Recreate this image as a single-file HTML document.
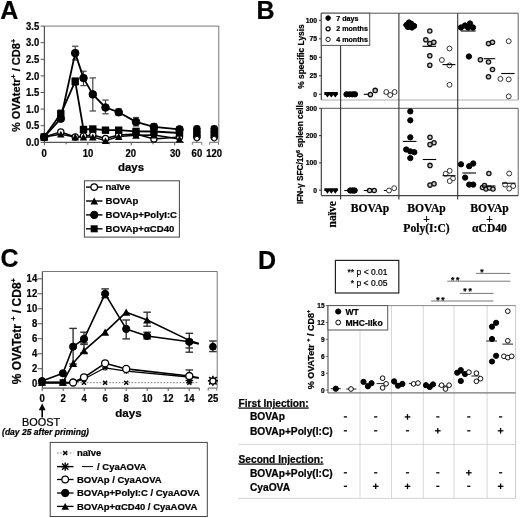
<!DOCTYPE html>
<html><head><meta charset="utf-8"><style>
html,body{margin:0;padding:0;background:#fff;}
body{width:520px;height:518px;overflow:hidden;}
svg{display:block;filter:blur(0.35px);}
text{stroke:#000;stroke-width:0.22px;}
</style></head><body>
<svg width="520" height="518" viewBox="0 0 520 518">
<rect width="520" height="518" fill="#fff"/>
<text x="0.3" y="18.8" font-size="25" font-weight="bold" font-family='"Liberation Sans", sans-serif' text-anchor="start" fill="#000" >A</text>
<text x="256.6" y="18.8" font-size="25" font-weight="bold" font-family='"Liberation Sans", sans-serif' text-anchor="start" fill="#000" >B</text>
<text x="0.6" y="266.6" font-size="25" font-weight="bold" font-family='"Liberation Sans", sans-serif' text-anchor="start" fill="#000" >C</text>
<text x="258" y="268.8" font-size="25" font-weight="bold" font-family='"Liberation Sans", sans-serif' text-anchor="start" fill="#000" >D</text>
<line x1="44.4" y1="26.1" x2="218.8" y2="26.1" stroke="#777" stroke-width="1" />
<line x1="218.8" y1="26.1" x2="218.8" y2="142.3" stroke="#777" stroke-width="1" />
<line x1="44.4" y1="26.1" x2="44.4" y2="142.3" stroke="#555" stroke-width="1.2" />
<line x1="44.4" y1="142.3" x2="184" y2="142.3" stroke="#555" stroke-width="1.2" />
<line x1="192.3" y1="142.3" x2="201.7" y2="142.3" stroke="#777" stroke-width="1" />
<line x1="192.3" y1="142.3" x2="192.3" y2="144.8" stroke="#777" stroke-width="1" />
<line x1="201.7" y1="142.3" x2="201.7" y2="144.8" stroke="#777" stroke-width="1" />
<line x1="209.6" y1="142.3" x2="218.5" y2="142.3" stroke="#777" stroke-width="1" />
<line x1="209.6" y1="142.3" x2="209.6" y2="144.8" stroke="#777" stroke-width="1" />
<line x1="218.5" y1="142.3" x2="218.5" y2="144.8" stroke="#777" stroke-width="1" />
<line x1="40.6" y1="142.3" x2="44.4" y2="142.3" stroke="#555" stroke-width="1" />
<text transform="translate(39.2,145.9) scale(0.95,1.0)" font-size="10" font-weight="bold" font-family='"Liberation Sans", sans-serif' text-anchor="end">0.0</text>
<line x1="40.6" y1="125.70000000000002" x2="44.4" y2="125.70000000000002" stroke="#555" stroke-width="1" />
<text transform="translate(39.2,129.3) scale(0.95,1.0)" font-size="10" font-weight="bold" font-family='"Liberation Sans", sans-serif' text-anchor="end">0.5</text>
<line x1="40.6" y1="109.10000000000001" x2="44.4" y2="109.10000000000001" stroke="#555" stroke-width="1" />
<text transform="translate(39.2,112.7) scale(0.95,1.0)" font-size="10" font-weight="bold" font-family='"Liberation Sans", sans-serif' text-anchor="end">1.0</text>
<line x1="40.6" y1="92.5" x2="44.4" y2="92.5" stroke="#555" stroke-width="1" />
<text transform="translate(39.2,96.1) scale(0.95,1.0)" font-size="10" font-weight="bold" font-family='"Liberation Sans", sans-serif' text-anchor="end">1.5</text>
<line x1="40.6" y1="75.9" x2="44.4" y2="75.9" stroke="#555" stroke-width="1" />
<text transform="translate(39.2,79.5) scale(0.95,1.0)" font-size="10" font-weight="bold" font-family='"Liberation Sans", sans-serif' text-anchor="end">2.0</text>
<line x1="40.6" y1="59.3" x2="44.4" y2="59.3" stroke="#555" stroke-width="1" />
<text transform="translate(39.2,62.9) scale(0.95,1.0)" font-size="10" font-weight="bold" font-family='"Liberation Sans", sans-serif' text-anchor="end">2.5</text>
<line x1="40.6" y1="42.7" x2="44.4" y2="42.7" stroke="#555" stroke-width="1" />
<text transform="translate(39.2,46.300000000000004) scale(0.95,1.0)" font-size="10" font-weight="bold" font-family='"Liberation Sans", sans-serif' text-anchor="end">3.0</text>
<line x1="40.6" y1="26.099999999999994" x2="44.4" y2="26.099999999999994" stroke="#555" stroke-width="1" />
<text transform="translate(39.2,29.699999999999996) scale(0.95,1.0)" font-size="10" font-weight="bold" font-family='"Liberation Sans", sans-serif' text-anchor="end">3.5</text>
<line x1="44.4" y1="142.3" x2="44.4" y2="145.3" stroke="#555" stroke-width="1" />
<line x1="87.83" y1="142.3" x2="87.83" y2="145.3" stroke="#555" stroke-width="1" />
<line x1="131.26" y1="142.3" x2="131.26" y2="145.3" stroke="#555" stroke-width="1" />
<line x1="174.69" y1="142.3" x2="174.69" y2="145.3" stroke="#555" stroke-width="1" />
<line x1="66.115" y1="142.3" x2="66.115" y2="144.3" stroke="#555" stroke-width="1" />
<line x1="109.54499999999999" y1="142.3" x2="109.54499999999999" y2="144.3" stroke="#555" stroke-width="1" />
<line x1="152.975" y1="142.3" x2="152.975" y2="144.3" stroke="#555" stroke-width="1" />
<text transform="translate(44.2,156.6) scale(0.95,1.0)" font-size="10" font-weight="bold" font-family='"Liberation Sans", sans-serif' text-anchor="middle">0</text>
<text transform="translate(88,156.6) scale(0.95,1.0)" font-size="10" font-weight="bold" font-family='"Liberation Sans", sans-serif' text-anchor="middle">10</text>
<text transform="translate(130.7,156.6) scale(0.95,1.0)" font-size="10" font-weight="bold" font-family='"Liberation Sans", sans-serif' text-anchor="middle">20</text>
<text transform="translate(175.3,156.6) scale(0.95,1.0)" font-size="10" font-weight="bold" font-family='"Liberation Sans", sans-serif' text-anchor="middle">30</text>
<text transform="translate(196.9,156.6) scale(0.95,1.0)" font-size="10" font-weight="bold" font-family='"Liberation Sans", sans-serif' text-anchor="middle">60</text>
<text transform="translate(214.2,156.6) scale(0.95,1.0)" font-size="10" font-weight="bold" font-family='"Liberation Sans", sans-serif' text-anchor="middle">120</text>
<text x="131" y="170.5" font-size="11.4" font-weight="bold" font-family='"Liberation Sans", sans-serif' text-anchor="middle" fill="#000" >days</text>
<text transform="translate(20.2,85.5) rotate(-90)" font-size="11" font-weight="bold" font-family='"Liberation Sans", sans-serif' text-anchor="middle">% OVAtetr<tspan font-size="7" dy="-4.5">+</tspan><tspan dy="4.5"> / CD8</tspan><tspan font-size="7" dy="-4.5">+</tspan></text>
<line x1="75.2" y1="46.2" x2="75.2" y2="60" stroke="#444" stroke-width="1.2" />
<line x1="72.0" y1="46.2" x2="78.4" y2="46.2" stroke="#444" stroke-width="1.2" />
<line x1="72.0" y1="60" x2="78.4" y2="60" stroke="#444" stroke-width="1.2" />
<line x1="83.5" y1="71.2" x2="83.5" y2="85.6" stroke="#444" stroke-width="1.2" />
<line x1="80.3" y1="71.2" x2="86.7" y2="71.2" stroke="#444" stroke-width="1.2" />
<line x1="80.3" y1="85.6" x2="86.7" y2="85.6" stroke="#444" stroke-width="1.2" />
<line x1="92.8" y1="77.9" x2="92.8" y2="111" stroke="#444" stroke-width="1.2" />
<line x1="89.6" y1="77.9" x2="96.0" y2="77.9" stroke="#444" stroke-width="1.2" />
<line x1="89.6" y1="111" x2="96.0" y2="111" stroke="#444" stroke-width="1.2" />
<line x1="105.5" y1="100.1" x2="105.5" y2="113.8" stroke="#444" stroke-width="1.2" />
<line x1="102.3" y1="100.1" x2="108.7" y2="100.1" stroke="#444" stroke-width="1.2" />
<line x1="102.3" y1="113.8" x2="108.7" y2="113.8" stroke="#444" stroke-width="1.2" />
<line x1="118.7" y1="109" x2="118.7" y2="115.5" stroke="#444" stroke-width="1.2" />
<line x1="115.5" y1="109" x2="121.9" y2="109" stroke="#444" stroke-width="1.2" />
<line x1="115.5" y1="115.5" x2="121.9" y2="115.5" stroke="#444" stroke-width="1.2" />
<line x1="136" y1="117.5" x2="136" y2="126" stroke="#444" stroke-width="1.2" />
<line x1="132.8" y1="117.5" x2="139.2" y2="117.5" stroke="#444" stroke-width="1.2" />
<line x1="132.8" y1="126" x2="139.2" y2="126" stroke="#444" stroke-width="1.2" />
<line x1="153.9" y1="124" x2="153.9" y2="129.5" stroke="#444" stroke-width="1.2" />
<line x1="150.70000000000002" y1="124" x2="157.1" y2="124" stroke="#444" stroke-width="1.2" />
<line x1="150.70000000000002" y1="129.5" x2="157.1" y2="129.5" stroke="#444" stroke-width="1.2" />
<line x1="179.5" y1="127" x2="179.5" y2="132" stroke="#444" stroke-width="1.2" />
<line x1="176.3" y1="127" x2="182.7" y2="127" stroke="#444" stroke-width="1.2" />
<line x1="176.3" y1="132" x2="182.7" y2="132" stroke="#444" stroke-width="1.2" />
<line x1="75.2" y1="78" x2="75.2" y2="85" stroke="#444" stroke-width="1.2" />
<line x1="72.0" y1="78" x2="78.4" y2="78" stroke="#444" stroke-width="1.2" />
<line x1="72.0" y1="85" x2="78.4" y2="85" stroke="#444" stroke-width="1.2" />
<line x1="60.8" y1="110" x2="60.8" y2="117" stroke="#444" stroke-width="1.2" />
<line x1="57.599999999999994" y1="110" x2="64.0" y2="110" stroke="#444" stroke-width="1.2" />
<line x1="57.599999999999994" y1="117" x2="64.0" y2="117" stroke="#444" stroke-width="1.2" />
<polyline points="44.2,137.0 60.8,131.9 75.2,137.0 83.5,136.0 92.8,135.0 105.5,138.5 118.7,135.0 136.0,134.0 153.9,139.0 179.5,137.0" fill="none" stroke="#000" stroke-width="1.4" stroke-linejoin="round" />
<polyline points="44.2,137.0 60.8,134.2 75.2,137.0 83.5,137.0 92.8,137.0 105.5,140.6 118.7,136.5 136.0,135.3 153.9,135.0 179.5,139.0" fill="none" stroke="#000" stroke-width="1.4" stroke-linejoin="round" />
<polyline points="44.2,137.0 60.8,113.8 75.2,81.4 83.5,129.5 92.8,129.0 105.5,130.2 118.7,130.2 136.0,131.4 153.9,131.5 179.5,133.0" fill="none" stroke="#000" stroke-width="1.8" stroke-linejoin="round" />
<polyline points="44.2,137.0 60.8,118.7 75.2,53.1 83.5,78.1 92.8,94.4 105.5,107.5 118.7,112.2 136.0,121.9 153.9,126.9 179.5,129.4" fill="none" stroke="#000" stroke-width="1.8" stroke-linejoin="round" />
<circle cx="44.2" cy="137.0" r="3.1" fill="#fff" stroke="#000" stroke-width="1.2"/>
<circle cx="60.8" cy="131.9" r="3.1" fill="#fff" stroke="#000" stroke-width="1.2"/>
<circle cx="75.2" cy="137.0" r="3.1" fill="#fff" stroke="#000" stroke-width="1.2"/>
<circle cx="83.5" cy="136.0" r="3.1" fill="#fff" stroke="#000" stroke-width="1.2"/>
<circle cx="92.8" cy="135.0" r="3.1" fill="#fff" stroke="#000" stroke-width="1.2"/>
<circle cx="105.5" cy="138.5" r="3.1" fill="#fff" stroke="#000" stroke-width="1.2"/>
<circle cx="118.7" cy="135.0" r="3.1" fill="#fff" stroke="#000" stroke-width="1.2"/>
<circle cx="136.0" cy="134.0" r="3.1" fill="#fff" stroke="#000" stroke-width="1.2"/>
<circle cx="153.9" cy="139.0" r="3.1" fill="#fff" stroke="#000" stroke-width="1.2"/>
<circle cx="179.5" cy="137.0" r="3.1" fill="#fff" stroke="#000" stroke-width="1.2"/>
<polygon points="40.5,140.4 48.0,140.4 44.2,133.6" fill="#000"/>
<polygon points="57.0,137.6 64.5,137.6 60.8,130.8" fill="#000"/>
<polygon points="71.5,140.4 79.0,140.4 75.2,133.6" fill="#000"/>
<polygon points="79.8,140.4 87.2,140.4 83.5,133.6" fill="#000"/>
<polygon points="89.0,140.4 96.5,140.4 92.8,133.6" fill="#000"/>
<polygon points="101.8,144.0 109.2,144.0 105.5,137.2" fill="#000"/>
<polygon points="115.0,139.9 122.5,139.9 118.7,133.1" fill="#000"/>
<polygon points="132.2,138.7 139.8,138.7 136.0,131.9" fill="#000"/>
<polygon points="150.2,138.4 157.7,138.4 153.9,131.6" fill="#000"/>
<polygon points="175.8,142.4 183.2,142.4 179.5,135.6" fill="#000"/>
<rect x="40.5" y="133.3" width="7.4" height="7.4" fill="#000"/>
<rect x="57.1" y="110.1" width="7.4" height="7.4" fill="#000"/>
<rect x="71.5" y="77.7" width="7.4" height="7.4" fill="#000"/>
<rect x="79.8" y="125.8" width="7.4" height="7.4" fill="#000"/>
<rect x="89.1" y="125.3" width="7.4" height="7.4" fill="#000"/>
<rect x="101.8" y="126.5" width="7.4" height="7.4" fill="#000"/>
<rect x="115.0" y="126.5" width="7.4" height="7.4" fill="#000"/>
<rect x="132.3" y="127.7" width="7.4" height="7.4" fill="#000"/>
<rect x="150.2" y="127.8" width="7.4" height="7.4" fill="#000"/>
<rect x="175.8" y="129.3" width="7.4" height="7.4" fill="#000"/>
<circle cx="44.2" cy="137.0" r="3.8" fill="#000" stroke="#000" stroke-width="1"/>
<circle cx="60.8" cy="118.7" r="3.8" fill="#000" stroke="#000" stroke-width="1"/>
<circle cx="75.2" cy="53.1" r="3.8" fill="#000" stroke="#000" stroke-width="1"/>
<circle cx="83.5" cy="78.1" r="3.8" fill="#000" stroke="#000" stroke-width="1"/>
<circle cx="92.8" cy="94.4" r="3.8" fill="#000" stroke="#000" stroke-width="1"/>
<circle cx="105.5" cy="107.5" r="3.8" fill="#000" stroke="#000" stroke-width="1"/>
<circle cx="118.7" cy="112.2" r="3.8" fill="#000" stroke="#000" stroke-width="1"/>
<circle cx="136.0" cy="121.9" r="3.8" fill="#000" stroke="#000" stroke-width="1"/>
<circle cx="153.9" cy="126.9" r="3.8" fill="#000" stroke="#000" stroke-width="1"/>
<circle cx="179.5" cy="129.4" r="3.8" fill="#000" stroke="#000" stroke-width="1"/>
<line x1="196.9" y1="126" x2="196.9" y2="142.5" stroke="#888" stroke-width="1" />
<line x1="193.4" y1="126" x2="200.4" y2="126" stroke="#888" stroke-width="1" />
<line x1="193.4" y1="142.5" x2="200.4" y2="142.5" stroke="#888" stroke-width="1" />
<circle cx="196.9" cy="128.8" r="3.4" fill="#000" stroke="#000" stroke-width="1"/>
<circle cx="196.9" cy="131.8" r="3.4" fill="#000" stroke="#000" stroke-width="1"/>
<circle cx="196.9" cy="134.8" r="3.4" fill="#000" stroke="#000" stroke-width="1"/>
<circle cx="196.9" cy="137.3" r="3.4" fill="#000" stroke="#000" stroke-width="1"/>
<rect x="193.7" y="129.8" width="6.5" height="6.5" fill="#000"/>
<circle cx="196.9" cy="138.6" r="2.3" fill="#fff" stroke="#000" stroke-width="1"/>
<line x1="214.2" y1="126" x2="214.2" y2="142.5" stroke="#888" stroke-width="1" />
<line x1="210.7" y1="126" x2="217.7" y2="126" stroke="#888" stroke-width="1" />
<line x1="210.7" y1="142.5" x2="217.7" y2="142.5" stroke="#888" stroke-width="1" />
<circle cx="214.2" cy="128.8" r="3.4" fill="#000" stroke="#000" stroke-width="1"/>
<circle cx="214.2" cy="131.8" r="3.4" fill="#000" stroke="#000" stroke-width="1"/>
<circle cx="214.2" cy="134.8" r="3.4" fill="#000" stroke="#000" stroke-width="1"/>
<circle cx="214.2" cy="137.3" r="3.4" fill="#000" stroke="#000" stroke-width="1"/>
<rect x="210.9" y="129.8" width="6.5" height="6.5" fill="#000"/>
<circle cx="214.2" cy="138.6" r="2.3" fill="#fff" stroke="#000" stroke-width="1"/>
<rect x="84.4" y="180.8" width="95" height="56.3" fill="none" stroke="#444" stroke-width="1"/>
<line x1="86" y1="187.1" x2="102.5" y2="187.1" stroke="#000" stroke-width="1.4" />
<circle cx="94.2" cy="187.1" r="3.3" fill="#fff" stroke="#000" stroke-width="1.2"/>
<text x="105.5" y="190.1" font-size="9.6" font-weight="bold" font-family='"Liberation Sans", sans-serif' text-anchor="start" fill="#000" >naïve</text>
<line x1="86" y1="201.0" x2="102.5" y2="201.0" stroke="#000" stroke-width="1.4" />
<polygon points="90.5,204.4 98.0,204.4 94.2,197.6" fill="#000"/>
<text x="105.5" y="204.0" font-size="9.6" font-weight="bold" font-family='"Liberation Sans", sans-serif' text-anchor="start" fill="#000" >BOVAp</text>
<line x1="86" y1="214.9" x2="102.5" y2="214.9" stroke="#000" stroke-width="1.4" />
<circle cx="94.2" cy="214.9" r="3.7" fill="#000" stroke="#000" stroke-width="1"/>
<text x="105.5" y="217.9" font-size="9.6" font-weight="bold" font-family='"Liberation Sans", sans-serif' text-anchor="start" fill="#000" >BOVAp+PolyI:C</text>
<line x1="86" y1="228.8" x2="102.5" y2="228.8" stroke="#000" stroke-width="1.4" />
<rect x="90.7" y="225.3" width="7" height="7" fill="#000"/>
<text x="105.5" y="231.8" font-size="9.6" font-weight="bold" font-family='"Liberation Sans", sans-serif' text-anchor="start" fill="#000" >BOVAp+αCD40</text>
<line x1="321.3" y1="13.2" x2="518.2" y2="13.2" stroke="#555" stroke-width="1" />
<line x1="518.2" y1="13.2" x2="518.2" y2="100.0" stroke="#666" stroke-width="1" />
<line x1="321.3" y1="100.0" x2="518.2" y2="100.0" stroke="#999" stroke-width="0.8" />
<line x1="321.3" y1="108.3" x2="518.2" y2="108.3" stroke="#555" stroke-width="1" />
<line x1="518.2" y1="108.3" x2="518.2" y2="195.6" stroke="#666" stroke-width="1" />
<line x1="321.3" y1="195.6" x2="518.2" y2="195.6" stroke="#444" stroke-width="1.1" />
<line x1="321.3" y1="13.2" x2="321.3" y2="100.0" stroke="#333" stroke-width="1.1" />
<line x1="321.3" y1="108.3" x2="321.3" y2="195.6" stroke="#333" stroke-width="1.1" />
<line x1="340.6" y1="13.2" x2="340.6" y2="199.4" stroke="#333" stroke-width="1.1" />
<line x1="398.9" y1="13.2" x2="398.9" y2="199.4" stroke="#333" stroke-width="1.1" />
<line x1="457.7" y1="13.2" x2="457.7" y2="199.4" stroke="#333" stroke-width="1.1" />
<line x1="319" y1="94.3" x2="321.3" y2="94.3" stroke="#333" stroke-width="1" />
<text x="317" y="96.7" font-size="6.8" font-weight="bold" font-family='"Liberation Sans", sans-serif' text-anchor="end" fill="#000" >0</text>
<line x1="319" y1="75.8" x2="321.3" y2="75.8" stroke="#333" stroke-width="1" />
<text x="317" y="78.2" font-size="6.8" font-weight="bold" font-family='"Liberation Sans", sans-serif' text-anchor="end" fill="#000" >25</text>
<line x1="319" y1="57.3" x2="321.3" y2="57.3" stroke="#333" stroke-width="1" />
<text x="317" y="59.699999999999996" font-size="6.8" font-weight="bold" font-family='"Liberation Sans", sans-serif' text-anchor="end" fill="#000" >50</text>
<line x1="319" y1="38.8" x2="321.3" y2="38.8" stroke="#333" stroke-width="1" />
<text x="317" y="41.199999999999996" font-size="6.8" font-weight="bold" font-family='"Liberation Sans", sans-serif' text-anchor="end" fill="#000" >75</text>
<line x1="319" y1="20.299999999999997" x2="321.3" y2="20.299999999999997" stroke="#333" stroke-width="1" />
<text x="317" y="22.699999999999996" font-size="6.8" font-weight="bold" font-family='"Liberation Sans", sans-serif' text-anchor="end" fill="#000" >100</text>
<line x1="319" y1="190.2" x2="321.3" y2="190.2" stroke="#333" stroke-width="1" />
<text x="317" y="192.6" font-size="6.8" font-weight="bold" font-family='"Liberation Sans", sans-serif' text-anchor="end" fill="#000" >0</text>
<line x1="319" y1="162.89999999999998" x2="321.3" y2="162.89999999999998" stroke="#333" stroke-width="1" />
<text x="317" y="165.29999999999998" font-size="6.8" font-weight="bold" font-family='"Liberation Sans", sans-serif' text-anchor="end" fill="#000" >100</text>
<line x1="319" y1="135.6" x2="321.3" y2="135.6" stroke="#333" stroke-width="1" />
<text x="317" y="138.0" font-size="6.8" font-weight="bold" font-family='"Liberation Sans", sans-serif' text-anchor="end" fill="#000" >200</text>
<line x1="319" y1="108.3" x2="321.3" y2="108.3" stroke="#333" stroke-width="1" />
<text x="317" y="110.7" font-size="6.8" font-weight="bold" font-family='"Liberation Sans", sans-serif' text-anchor="end" fill="#000" >300</text>
<text transform="translate(304.2,56.5) rotate(-90)" font-size="8.4" font-weight="bold" font-family='"Liberation Sans", sans-serif' text-anchor="middle">% specific Lysis</text>
<text transform="translate(303.3,152.3) rotate(-90)" font-size="8.3" font-weight="bold" font-family='"Liberation Sans", sans-serif' text-anchor="middle">IFN-γ SFC/10<tspan font-size="5.5" dy="-3.5">6</tspan><tspan dy="3.5"> spleen cells</tspan></text>
<rect x="321.3" y="13.2" width="48.4" height="32.2" fill="#fff" stroke="#555" stroke-width="1"/>
<circle cx="328.1" cy="18.1" r="2.3" fill="#000" stroke="#000" stroke-width="1"/>
<circle cx="328.1" cy="28.8" r="2.0" fill="#fff" stroke="#000" stroke-width="1.3"/>
<circle cx="328.1" cy="39.4" r="2.2" fill="#fff" stroke="#000" stroke-width="0.9"/>
<text x="336.3" y="20.6" font-size="7.1" font-weight="bold" font-family='"Liberation Sans", sans-serif' text-anchor="start" fill="#000" >7 days</text>
<text x="336.3" y="31.3" font-size="7.1" font-weight="bold" font-family='"Liberation Sans", sans-serif' text-anchor="start" fill="#000" >2 months</text>
<text x="336.3" y="41.9" font-size="7.1" font-weight="bold" font-family='"Liberation Sans", sans-serif' text-anchor="start" fill="#000" >4 months</text>
<polygon points="324.3,92.1 337.9,92.1 337.9,95.0 337.3,95.0 335.3,97.6 333.3,95.0 333.3,95.0 331.3,97.6 329.3,95.0 327.5,97.6 325.5,95.0 324.3,95.0" fill="#000"/>
<polygon points="324.3,188.2 337.9,188.2 337.9,191.1 337.3,191.1 335.3,193.7 333.3,191.1 333.3,191.1 331.3,193.7 329.3,191.1 327.5,193.7 325.5,191.1 324.3,191.1" fill="#000"/>
<line x1="344.5" y1="94.3" x2="352" y2="94.3" stroke="#000" stroke-width="1.1" />
<circle cx="346.5" cy="94.3" r="2.65" fill="#000" stroke="#000" stroke-width="1"/>
<circle cx="349.5" cy="94.3" r="2.65" fill="#000" stroke="#000" stroke-width="1"/>
<circle cx="352.5" cy="94.3" r="2.65" fill="#000" stroke="#000" stroke-width="1"/>
<circle cx="355.0" cy="94.3" r="2.65" fill="#000" stroke="#000" stroke-width="1"/>
<line x1="363.8" y1="94.3" x2="370" y2="94.3" stroke="#000" stroke-width="1.1" />
<line x1="344.3" y1="190.5" x2="350" y2="190.5" stroke="#000" stroke-width="1.1" />
<circle cx="350.2" cy="190.5" r="2.65" fill="#000" stroke="#000" stroke-width="1"/>
<circle cx="352.6" cy="190.5" r="2.65" fill="#000" stroke="#000" stroke-width="1"/>
<circle cx="354.6" cy="190.5" r="2.65" fill="#000" stroke="#000" stroke-width="1"/>
<line x1="363.8" y1="190.5" x2="370" y2="190.5" stroke="#000" stroke-width="1.1" />
<circle cx="370.4" cy="94.6" r="2.15" fill="#c8c8c8" stroke="#111" stroke-width="1.3"/>
<circle cx="375.2" cy="90.4" r="2.15" fill="#c8c8c8" stroke="#111" stroke-width="1.3"/>
<circle cx="369.6" cy="190.5" r="2.15" fill="#c8c8c8" stroke="#111" stroke-width="1.3"/>
<circle cx="374.2" cy="190.5" r="2.15" fill="#c8c8c8" stroke="#111" stroke-width="1.3"/>
<line x1="383.8" y1="93.5" x2="388" y2="93.5" stroke="#000" stroke-width="1.1" />
<circle cx="386.3" cy="92.0" r="2.45" fill="#fff" stroke="#111" stroke-width="0.85"/>
<circle cx="390.2" cy="95.0" r="2.45" fill="#fff" stroke="#111" stroke-width="0.85"/>
<circle cx="394.6" cy="92.0" r="2.45" fill="#fff" stroke="#111" stroke-width="0.85"/>
<line x1="383.8" y1="190.5" x2="388" y2="190.5" stroke="#000" stroke-width="1.1" />
<circle cx="389.0" cy="190.5" r="2.45" fill="#fff" stroke="#111" stroke-width="0.85"/>
<circle cx="394.2" cy="188.2" r="2.45" fill="#fff" stroke="#111" stroke-width="0.85"/>
<circle cx="406.5" cy="25.0" r="2.65" fill="#000" stroke="#000" stroke-width="1"/>
<circle cx="409.0" cy="22.5" r="2.65" fill="#000" stroke="#000" stroke-width="1"/>
<circle cx="411.5" cy="24.0" r="2.65" fill="#000" stroke="#000" stroke-width="1"/>
<circle cx="414.0" cy="26.0" r="2.65" fill="#000" stroke="#000" stroke-width="1"/>
<circle cx="408.0" cy="27.0" r="2.65" fill="#000" stroke="#000" stroke-width="1"/>
<circle cx="412.0" cy="27.5" r="2.65" fill="#000" stroke="#000" stroke-width="1"/>
<circle cx="410.5" cy="25.0" r="2.65" fill="#000" stroke="#000" stroke-width="1"/>
<line x1="403" y1="25" x2="417" y2="25" stroke="#000" stroke-width="1.1" />
<circle cx="429.8" cy="31.0" r="2.15" fill="#c8c8c8" stroke="#111" stroke-width="1.3"/>
<circle cx="425.8" cy="39.8" r="2.15" fill="#c8c8c8" stroke="#111" stroke-width="1.3"/>
<circle cx="429.8" cy="43.6" r="2.15" fill="#c8c8c8" stroke="#111" stroke-width="1.3"/>
<circle cx="433.8" cy="42.3" r="2.15" fill="#c8c8c8" stroke="#111" stroke-width="1.3"/>
<circle cx="429.8" cy="55.7" r="2.15" fill="#c8c8c8" stroke="#111" stroke-width="1.3"/>
<circle cx="429.8" cy="65.2" r="2.15" fill="#c8c8c8" stroke="#111" stroke-width="1.3"/>
<line x1="422.5" y1="46.3" x2="436" y2="46.3" stroke="#000" stroke-width="1.1" />
<circle cx="449.5" cy="48.5" r="2.45" fill="#fff" stroke="#111" stroke-width="0.85"/>
<circle cx="441.9" cy="60.0" r="2.45" fill="#fff" stroke="#111" stroke-width="0.85"/>
<circle cx="449.5" cy="65.4" r="2.45" fill="#fff" stroke="#111" stroke-width="0.85"/>
<circle cx="449.5" cy="84.8" r="2.45" fill="#fff" stroke="#111" stroke-width="0.85"/>
<line x1="442.5" y1="64.6" x2="455.4" y2="64.6" stroke="#000" stroke-width="1.1" />
<circle cx="461.0" cy="27.5" r="2.65" fill="#000" stroke="#000" stroke-width="1"/>
<circle cx="465.0" cy="25.5" r="2.65" fill="#000" stroke="#000" stroke-width="1"/>
<circle cx="470.0" cy="23.5" r="2.65" fill="#000" stroke="#000" stroke-width="1"/>
<circle cx="473.0" cy="27.5" r="2.65" fill="#000" stroke="#000" stroke-width="1"/>
<circle cx="468.0" cy="27.5" r="2.65" fill="#000" stroke="#000" stroke-width="1"/>
<line x1="460.8" y1="31" x2="475.6" y2="31" stroke="#000" stroke-width="1.1" />
<circle cx="468.9" cy="56.5" r="2.65" fill="#000" stroke="#000" stroke-width="1"/>
<circle cx="488.5" cy="43.6" r="2.15" fill="#c8c8c8" stroke="#111" stroke-width="1.3"/>
<circle cx="492.5" cy="42.3" r="2.15" fill="#c8c8c8" stroke="#111" stroke-width="1.3"/>
<circle cx="480.4" cy="59.8" r="2.15" fill="#c8c8c8" stroke="#111" stroke-width="1.3"/>
<circle cx="488.5" cy="62.0" r="2.15" fill="#c8c8c8" stroke="#111" stroke-width="1.3"/>
<circle cx="492.5" cy="69.5" r="2.15" fill="#c8c8c8" stroke="#111" stroke-width="1.3"/>
<circle cx="488.5" cy="76.7" r="2.15" fill="#c8c8c8" stroke="#111" stroke-width="1.3"/>
<line x1="483.7" y1="58.7" x2="495.2" y2="58.7" stroke="#000" stroke-width="1.1" />
<circle cx="508.7" cy="41.2" r="2.45" fill="#fff" stroke="#111" stroke-width="0.85"/>
<circle cx="500.4" cy="78.9" r="2.45" fill="#fff" stroke="#111" stroke-width="0.85"/>
<circle cx="508.7" cy="79.4" r="2.45" fill="#fff" stroke="#111" stroke-width="0.85"/>
<circle cx="508.7" cy="96.4" r="2.45" fill="#fff" stroke="#111" stroke-width="0.85"/>
<line x1="501.2" y1="73.5" x2="514.6" y2="73.5" stroke="#000" stroke-width="1.1" />
<circle cx="410.3" cy="111.4" r="2.65" fill="#000" stroke="#000" stroke-width="1"/>
<circle cx="410.3" cy="120.3" r="2.65" fill="#000" stroke="#000" stroke-width="1"/>
<circle cx="410.3" cy="137.3" r="2.65" fill="#000" stroke="#000" stroke-width="1"/>
<circle cx="406.2" cy="149.5" r="2.65" fill="#000" stroke="#000" stroke-width="1"/>
<circle cx="410.3" cy="151.4" r="2.65" fill="#000" stroke="#000" stroke-width="1"/>
<circle cx="414.3" cy="152.2" r="2.65" fill="#000" stroke="#000" stroke-width="1"/>
<circle cx="410.3" cy="158.1" r="2.65" fill="#000" stroke="#000" stroke-width="1"/>
<line x1="403" y1="141.4" x2="416.5" y2="141.4" stroke="#000" stroke-width="1.1" />
<circle cx="430.0" cy="137.3" r="2.15" fill="#c8c8c8" stroke="#111" stroke-width="1.3"/>
<circle cx="434.0" cy="142.7" r="2.15" fill="#c8c8c8" stroke="#111" stroke-width="1.3"/>
<circle cx="430.0" cy="144.6" r="2.15" fill="#c8c8c8" stroke="#111" stroke-width="1.3"/>
<circle cx="430.0" cy="165.4" r="2.15" fill="#c8c8c8" stroke="#111" stroke-width="1.3"/>
<circle cx="430.0" cy="185.1" r="2.15" fill="#c8c8c8" stroke="#111" stroke-width="1.3"/>
<circle cx="434.0" cy="183.8" r="2.15" fill="#c8c8c8" stroke="#111" stroke-width="1.3"/>
<line x1="422.7" y1="159.5" x2="436.2" y2="159.5" stroke="#000" stroke-width="1.1" />
<circle cx="449.7" cy="170.8" r="2.45" fill="#fff" stroke="#111" stroke-width="0.85"/>
<circle cx="445.7" cy="173.8" r="2.45" fill="#fff" stroke="#111" stroke-width="0.85"/>
<circle cx="453.0" cy="178.4" r="2.45" fill="#fff" stroke="#111" stroke-width="0.85"/>
<circle cx="449.7" cy="181.1" r="2.45" fill="#fff" stroke="#111" stroke-width="0.85"/>
<line x1="442.5" y1="175.7" x2="455.5" y2="175.7" stroke="#000" stroke-width="1.1" />
<circle cx="461.0" cy="164.3" r="2.65" fill="#000" stroke="#000" stroke-width="1"/>
<circle cx="469.2" cy="166.2" r="2.65" fill="#000" stroke="#000" stroke-width="1"/>
<circle cx="473.2" cy="163.5" r="2.65" fill="#000" stroke="#000" stroke-width="1"/>
<circle cx="465.1" cy="177.6" r="2.65" fill="#000" stroke="#000" stroke-width="1"/>
<circle cx="469.2" cy="184.6" r="2.65" fill="#000" stroke="#000" stroke-width="1"/>
<circle cx="473.2" cy="184.6" r="2.65" fill="#000" stroke="#000" stroke-width="1"/>
<line x1="462.4" y1="173" x2="476" y2="173" stroke="#000" stroke-width="1.1" />
<circle cx="488.9" cy="173.5" r="2.15" fill="#c8c8c8" stroke="#111" stroke-width="1.3"/>
<circle cx="482.5" cy="187.5" r="2.15" fill="#c8c8c8" stroke="#111" stroke-width="1.3"/>
<circle cx="486.0" cy="189.0" r="2.15" fill="#c8c8c8" stroke="#111" stroke-width="1.3"/>
<circle cx="489.5" cy="188.0" r="2.15" fill="#c8c8c8" stroke="#111" stroke-width="1.3"/>
<circle cx="493.0" cy="189.0" r="2.15" fill="#c8c8c8" stroke="#111" stroke-width="1.3"/>
<circle cx="484.5" cy="185.5" r="2.15" fill="#c8c8c8" stroke="#111" stroke-width="1.3"/>
<line x1="482" y1="186" x2="495.5" y2="186" stroke="#000" stroke-width="1.1" />
<circle cx="509.2" cy="173.5" r="2.45" fill="#fff" stroke="#111" stroke-width="0.85"/>
<circle cx="505.1" cy="184.6" r="2.45" fill="#fff" stroke="#111" stroke-width="0.85"/>
<circle cx="509.2" cy="188.6" r="2.45" fill="#fff" stroke="#111" stroke-width="0.85"/>
<circle cx="513.2" cy="186.0" r="2.45" fill="#fff" stroke="#111" stroke-width="0.85"/>
<line x1="502" y1="183.2" x2="515.5" y2="183.2" stroke="#000" stroke-width="1.1" />
<text transform="translate(335.8,227.5) rotate(-90)" font-size="11.6" font-weight="bold" font-family='"Liberation Serif", serif'>naïve</text>
<text x="370" y="211.8" font-size="11.6" font-weight="bold" font-family='"Liberation Serif", serif' text-anchor="middle" fill="#000" >BOVAp</text>
<text x="426.5" y="211.8" font-size="11.6" font-weight="bold" font-family='"Liberation Serif", serif' text-anchor="middle" fill="#000" >BOVAp</text>
<text x="426.5" y="222.5" font-size="11.6" font-weight="bold" font-family='"Liberation Serif", serif' text-anchor="middle" fill="#000" >+</text>
<text x="426.5" y="231.5" font-size="11.6" font-weight="bold" font-family='"Liberation Serif", serif' text-anchor="middle" fill="#000" >Poly(I:C)</text>
<text x="489.5" y="211.8" font-size="11.6" font-weight="bold" font-family='"Liberation Serif", serif' text-anchor="middle" fill="#000" >BOVAp</text>
<text x="489.5" y="222.5" font-size="11.6" font-weight="bold" font-family='"Liberation Serif", serif' text-anchor="middle" fill="#000" >+</text>
<text x="489.5" y="231.5" font-size="11.6" font-weight="bold" font-family='"Liberation Serif", serif' text-anchor="middle" fill="#000" >αCD40</text>
<line x1="42.4" y1="271.5" x2="217.2" y2="271.5" stroke="#777" stroke-width="1" />
<line x1="217.2" y1="271.5" x2="217.2" y2="388.1" stroke="#777" stroke-width="1" />
<line x1="42.4" y1="271.5" x2="42.4" y2="388.1" stroke="#555" stroke-width="1.2" />
<line x1="42.4" y1="388.1" x2="199.3" y2="388.1" stroke="#555" stroke-width="1.2" />
<line x1="208.2" y1="388.1" x2="216.8" y2="388.1" stroke="#666" stroke-width="1.1" />
<line x1="208.2" y1="388.1" x2="208.2" y2="390.6" stroke="#666" stroke-width="1" />
<line x1="216.8" y1="388.1" x2="216.8" y2="390.6" stroke="#666" stroke-width="1" />
<line x1="199.3" y1="388.1" x2="199.3" y2="390.6" stroke="#555" stroke-width="1" />
<line x1="37.5" y1="383.7" x2="42.4" y2="383.7" stroke="#555" stroke-width="1" />
<text transform="translate(37.2,387.3) scale(0.95,1.0)" font-size="10" font-weight="bold" font-family='"Liberation Sans", sans-serif' text-anchor="end">0</text>
<line x1="37.5" y1="368.71999999999997" x2="42.4" y2="368.71999999999997" stroke="#555" stroke-width="1" />
<text transform="translate(37.2,372.32) scale(0.95,1.0)" font-size="10" font-weight="bold" font-family='"Liberation Sans", sans-serif' text-anchor="end">2</text>
<line x1="37.5" y1="353.74" x2="42.4" y2="353.74" stroke="#555" stroke-width="1" />
<text transform="translate(37.2,357.34000000000003) scale(0.95,1.0)" font-size="10" font-weight="bold" font-family='"Liberation Sans", sans-serif' text-anchor="end">4</text>
<line x1="37.5" y1="338.76" x2="42.4" y2="338.76" stroke="#555" stroke-width="1" />
<text transform="translate(37.2,342.36) scale(0.95,1.0)" font-size="10" font-weight="bold" font-family='"Liberation Sans", sans-serif' text-anchor="end">6</text>
<line x1="37.5" y1="323.78" x2="42.4" y2="323.78" stroke="#555" stroke-width="1" />
<text transform="translate(37.2,327.38) scale(0.95,1.0)" font-size="10" font-weight="bold" font-family='"Liberation Sans", sans-serif' text-anchor="end">8</text>
<line x1="37.5" y1="308.79999999999995" x2="42.4" y2="308.79999999999995" stroke="#555" stroke-width="1" />
<text transform="translate(37.2,312.4) scale(0.95,1.0)" font-size="10" font-weight="bold" font-family='"Liberation Sans", sans-serif' text-anchor="end">10</text>
<line x1="37.5" y1="293.82" x2="42.4" y2="293.82" stroke="#555" stroke-width="1" />
<text transform="translate(37.2,297.42) scale(0.95,1.0)" font-size="10" font-weight="bold" font-family='"Liberation Sans", sans-serif' text-anchor="end">12</text>
<line x1="37.5" y1="278.84" x2="42.4" y2="278.84" stroke="#555" stroke-width="1" />
<text transform="translate(37.2,282.44) scale(0.95,1.0)" font-size="10" font-weight="bold" font-family='"Liberation Sans", sans-serif' text-anchor="end">14</text>
<line x1="42.2" y1="388.1" x2="42.2" y2="391.1" stroke="#555" stroke-width="1" />
<text transform="translate(42.2,402.1) scale(0.95,1.0)" font-size="10" font-weight="bold" font-family='"Liberation Sans", sans-serif' text-anchor="middle">0</text>
<line x1="63.2" y1="388.1" x2="63.2" y2="391.1" stroke="#555" stroke-width="1" />
<text transform="translate(63.2,402.1) scale(0.95,1.0)" font-size="10" font-weight="bold" font-family='"Liberation Sans", sans-serif' text-anchor="middle">2</text>
<line x1="84.2" y1="388.1" x2="84.2" y2="391.1" stroke="#555" stroke-width="1" />
<text transform="translate(84.2,402.1) scale(0.95,1.0)" font-size="10" font-weight="bold" font-family='"Liberation Sans", sans-serif' text-anchor="middle">4</text>
<line x1="105.2" y1="388.1" x2="105.2" y2="391.1" stroke="#555" stroke-width="1" />
<text transform="translate(105.2,402.1) scale(0.95,1.0)" font-size="10" font-weight="bold" font-family='"Liberation Sans", sans-serif' text-anchor="middle">6</text>
<line x1="126.2" y1="388.1" x2="126.2" y2="391.1" stroke="#555" stroke-width="1" />
<text transform="translate(126.2,402.1) scale(0.95,1.0)" font-size="10" font-weight="bold" font-family='"Liberation Sans", sans-serif' text-anchor="middle">8</text>
<line x1="147.2" y1="388.1" x2="147.2" y2="391.1" stroke="#555" stroke-width="1" />
<text transform="translate(147.2,402.1) scale(0.95,1.0)" font-size="10" font-weight="bold" font-family='"Liberation Sans", sans-serif' text-anchor="middle">10</text>
<line x1="168.2" y1="388.1" x2="168.2" y2="391.1" stroke="#555" stroke-width="1" />
<text transform="translate(168.2,402.1) scale(0.95,1.0)" font-size="10" font-weight="bold" font-family='"Liberation Sans", sans-serif' text-anchor="middle">12</text>
<line x1="189.2" y1="388.1" x2="189.2" y2="391.1" stroke="#555" stroke-width="1" />
<text transform="translate(189.2,402.1) scale(0.95,1.0)" font-size="10" font-weight="bold" font-family='"Liberation Sans", sans-serif' text-anchor="middle">14</text>
<text transform="translate(213,402.1) scale(0.95,1.0)" font-size="10" font-weight="bold" font-family='"Liberation Sans", sans-serif' text-anchor="middle">25</text>
<text x="128.5" y="417" font-size="11.6" font-weight="bold" font-family='"Liberation Sans", sans-serif' text-anchor="middle" fill="#000" >days</text>
<text transform="translate(20.6,331.1) rotate(-90)" font-size="12" font-weight="bold" font-family='"Liberation Sans", sans-serif' text-anchor="middle">% OVATetr <tspan font-size="7.5" dy="-4.8">+</tspan><tspan dy="4.8"> / CD8</tspan><tspan font-size="7.5" dy="-4.8">+</tspan></text>
<line x1="42.2" y1="408" x2="42.2" y2="417.5" stroke="#000" stroke-width="1.6" />
<polygon points="38.8,410.3 45.6,410.3 42.2,403.3" fill="#000"/>
<text x="41" y="426" font-size="10.9" font-weight="normal" font-family='"Liberation Sans", sans-serif' text-anchor="middle" fill="#000" >BOOST</text>
<text x="45.5" y="434.8" font-size="8.55" font-weight="bold" font-family='"Liberation Sans", sans-serif' text-anchor="middle" fill="#000" font-style="italic" >(day 25 after priming)</text>
<line x1="73.1" y1="328.4" x2="73.1" y2="364" stroke="#333" stroke-width="1.4" />
<line x1="69.3" y1="328.4" x2="76.89999999999999" y2="328.4" stroke="#333" stroke-width="1.4" />
<line x1="69.3" y1="364" x2="76.89999999999999" y2="364" stroke="#333" stroke-width="1.4" />
<line x1="84" y1="332.2" x2="84" y2="344.4" stroke="#333" stroke-width="1.4" />
<line x1="80.2" y1="332.2" x2="87.8" y2="332.2" stroke="#333" stroke-width="1.4" />
<line x1="80.2" y1="344.4" x2="87.8" y2="344.4" stroke="#333" stroke-width="1.4" />
<line x1="105.1" y1="288.9" x2="105.1" y2="297.8" stroke="#333" stroke-width="1.4" />
<line x1="101.3" y1="288.9" x2="108.89999999999999" y2="288.9" stroke="#333" stroke-width="1.4" />
<line x1="101.3" y1="297.8" x2="108.89999999999999" y2="297.8" stroke="#333" stroke-width="1.4" />
<line x1="126.2" y1="320" x2="126.2" y2="338.9" stroke="#333" stroke-width="1.4" />
<line x1="122.4" y1="320" x2="130.0" y2="320" stroke="#333" stroke-width="1.4" />
<line x1="122.4" y1="338.9" x2="130.0" y2="338.9" stroke="#333" stroke-width="1.4" />
<line x1="147.1" y1="332.2" x2="147.1" y2="338.9" stroke="#333" stroke-width="1.4" />
<line x1="143.29999999999998" y1="332.2" x2="150.9" y2="332.2" stroke="#333" stroke-width="1.4" />
<line x1="143.29999999999998" y1="338.9" x2="150.9" y2="338.9" stroke="#333" stroke-width="1.4" />
<line x1="189.3" y1="333.3" x2="189.3" y2="352.2" stroke="#333" stroke-width="1.4" />
<line x1="185.5" y1="333.3" x2="193.10000000000002" y2="333.3" stroke="#333" stroke-width="1.4" />
<line x1="185.5" y1="352.2" x2="193.10000000000002" y2="352.2" stroke="#333" stroke-width="1.4" />
<line x1="147.1" y1="312.2" x2="147.1" y2="326.2" stroke="#333" stroke-width="1.4" />
<line x1="143.29999999999998" y1="312.2" x2="150.9" y2="312.2" stroke="#333" stroke-width="1.4" />
<line x1="143.29999999999998" y1="326.2" x2="150.9" y2="326.2" stroke="#333" stroke-width="1.4" />
<line x1="84" y1="343" x2="84" y2="353" stroke="#333" stroke-width="1.4" />
<line x1="80.2" y1="343" x2="87.8" y2="343" stroke="#333" stroke-width="1.4" />
<line x1="80.2" y1="353" x2="87.8" y2="353" stroke="#333" stroke-width="1.4" />
<line x1="212.9" y1="341" x2="212.9" y2="351.6" stroke="#333" stroke-width="1.4" />
<line x1="209.1" y1="341" x2="216.70000000000002" y2="341" stroke="#333" stroke-width="1.4" />
<line x1="209.1" y1="351.6" x2="216.70000000000002" y2="351.6" stroke="#333" stroke-width="1.4" />
<line x1="189.3" y1="370" x2="189.3" y2="378" stroke="#333" stroke-width="1.4" />
<line x1="185.5" y1="370" x2="193.10000000000002" y2="370" stroke="#333" stroke-width="1.4" />
<line x1="185.5" y1="378" x2="193.10000000000002" y2="378" stroke="#333" stroke-width="1.4" />
<line x1="189.3" y1="340" x2="189.3" y2="348" stroke="#333" stroke-width="1.4" />
<line x1="185.5" y1="340" x2="193.10000000000002" y2="340" stroke="#333" stroke-width="1.4" />
<line x1="185.5" y1="348" x2="193.10000000000002" y2="348" stroke="#333" stroke-width="1.4" />
<line x1="42" y1="382.7" x2="198.5" y2="382.7" stroke="#555" stroke-width="0.8" stroke-dasharray="1.6,1.6"/>
<line x1="82" y1="380.7" x2="86" y2="384.7" stroke="#000" stroke-width="1.4" />
<line x1="82" y1="384.7" x2="86" y2="380.7" stroke="#000" stroke-width="1.4" />
<line x1="103.1" y1="380.7" x2="107.1" y2="384.7" stroke="#000" stroke-width="1.4" />
<line x1="103.1" y1="384.7" x2="107.1" y2="380.7" stroke="#000" stroke-width="1.4" />
<line x1="124.2" y1="380.7" x2="128.2" y2="384.7" stroke="#000" stroke-width="1.4" />
<line x1="124.2" y1="384.7" x2="128.2" y2="380.7" stroke="#000" stroke-width="1.4" />
<line x1="187.3" y1="380.7" x2="191.3" y2="384.7" stroke="#000" stroke-width="1.4" />
<line x1="187.3" y1="384.7" x2="191.3" y2="380.7" stroke="#000" stroke-width="1.4" />
<polyline points="42.0,383.0 62.9,383.0 73.1,383.0 84.0,379.0 105.1,367.8 126.2,371.1 189.3,377.0 198.8,378.2" fill="none" stroke="#000" stroke-width="1.3" stroke-linejoin="round" />
<polyline points="42.0,382.5 62.9,382.5 73.1,382.5 84.0,377.3 105.1,363.3 126.2,368.9 189.3,376.0 198.8,377.8" fill="none" stroke="#000" stroke-width="1.6" stroke-linejoin="round" />
<polyline points="42.0,382.2 62.9,382.2 73.1,363.3 84.0,350.7 105.1,332.2 126.2,312.2 147.1,320.0 189.3,340.4 198.8,343.5" fill="none" stroke="#000" stroke-width="1.6" stroke-linejoin="round" />
<polyline points="42.0,381.1 62.9,373.3 73.1,346.7 84.0,338.9 105.1,293.8 126.2,328.9 147.1,336.0 189.3,341.8 198.8,344.0" fill="none" stroke="#000" stroke-width="1.6" stroke-linejoin="round" />
<line x1="70.1" y1="383" x2="76.1" y2="383" stroke="#000" stroke-width="1.1" />
<line x1="73.1" y1="380" x2="73.1" y2="386" stroke="#000" stroke-width="1.1" />
<line x1="70.85" y1="380.75" x2="75.35" y2="385.25" stroke="#000" stroke-width="1.1" />
<line x1="70.85" y1="385.25" x2="75.35" y2="380.75" stroke="#000" stroke-width="1.1" />
<line x1="81" y1="379" x2="87" y2="379" stroke="#000" stroke-width="1.1" />
<line x1="84" y1="376" x2="84" y2="382" stroke="#000" stroke-width="1.1" />
<line x1="81.75" y1="376.75" x2="86.25" y2="381.25" stroke="#000" stroke-width="1.1" />
<line x1="81.75" y1="381.25" x2="86.25" y2="376.75" stroke="#000" stroke-width="1.1" />
<line x1="102.1" y1="367.8" x2="108.1" y2="367.8" stroke="#000" stroke-width="1.1" />
<line x1="105.1" y1="364.8" x2="105.1" y2="370.8" stroke="#000" stroke-width="1.1" />
<line x1="102.85" y1="365.55" x2="107.35" y2="370.05" stroke="#000" stroke-width="1.1" />
<line x1="102.85" y1="370.05" x2="107.35" y2="365.55" stroke="#000" stroke-width="1.1" />
<line x1="123.2" y1="371.1" x2="129.2" y2="371.1" stroke="#000" stroke-width="1.1" />
<line x1="126.2" y1="368.1" x2="126.2" y2="374.1" stroke="#000" stroke-width="1.1" />
<line x1="123.95" y1="368.85" x2="128.45" y2="373.35" stroke="#000" stroke-width="1.1" />
<line x1="123.95" y1="373.35" x2="128.45" y2="368.85" stroke="#000" stroke-width="1.1" />
<line x1="186.3" y1="377" x2="192.3" y2="377" stroke="#000" stroke-width="1.1" />
<line x1="189.3" y1="374" x2="189.3" y2="380" stroke="#000" stroke-width="1.1" />
<line x1="187.05" y1="374.75" x2="191.55" y2="379.25" stroke="#000" stroke-width="1.1" />
<line x1="187.05" y1="379.25" x2="191.55" y2="374.75" stroke="#000" stroke-width="1.1" />
<line x1="185.5" y1="380.5" x2="193.10000000000002" y2="380.5" stroke="#000" stroke-width="1.4" />
<line x1="189.3" y1="376.7" x2="189.3" y2="384.3" stroke="#000" stroke-width="1.4" />
<line x1="186.45000000000002" y1="377.65" x2="192.15" y2="383.35" stroke="#000" stroke-width="1.4" />
<line x1="186.45000000000002" y1="383.35" x2="192.15" y2="377.65" stroke="#000" stroke-width="1.4" />
<polygon points="38.0,385.8 46.0,385.8 42.0,378.6" fill="#000"/>
<polygon points="58.9,385.8 66.9,385.8 62.9,378.6" fill="#000"/>
<polygon points="69.1,366.9 77.1,366.9 73.1,359.7" fill="#000"/>
<polygon points="80.0,354.3 88.0,354.3 84.0,347.1" fill="#000"/>
<polygon points="101.1,335.8 109.1,335.8 105.1,328.6" fill="#000"/>
<polygon points="122.2,315.8 130.2,315.8 126.2,308.6" fill="#000"/>
<polygon points="143.1,323.6 151.1,323.6 147.1,316.4" fill="#000"/>
<polygon points="185.3,344.0 193.3,344.0 189.3,336.8" fill="#000"/>
<circle cx="42.0" cy="381.1" r="3.6" fill="#000" stroke="#000" stroke-width="1"/>
<circle cx="62.9" cy="373.3" r="3.6" fill="#000" stroke="#000" stroke-width="1"/>
<circle cx="73.1" cy="346.7" r="3.6" fill="#000" stroke="#000" stroke-width="1"/>
<circle cx="84.0" cy="338.9" r="3.6" fill="#000" stroke="#000" stroke-width="1"/>
<circle cx="105.1" cy="293.8" r="3.6" fill="#000" stroke="#000" stroke-width="1"/>
<circle cx="126.2" cy="328.9" r="3.6" fill="#000" stroke="#000" stroke-width="1"/>
<circle cx="147.1" cy="336.0" r="3.6" fill="#000" stroke="#000" stroke-width="1"/>
<circle cx="189.3" cy="341.8" r="3.6" fill="#000" stroke="#000" stroke-width="1"/>
<circle cx="73.1" cy="382.5" r="3.5" fill="#fff" stroke="#000" stroke-width="1.3"/>
<circle cx="84.0" cy="377.3" r="3.5" fill="#fff" stroke="#000" stroke-width="1.3"/>
<circle cx="105.1" cy="363.3" r="3.5" fill="#fff" stroke="#000" stroke-width="1.3"/>
<circle cx="126.2" cy="368.9" r="3.5" fill="#fff" stroke="#000" stroke-width="1.3"/>
<circle cx="189.3" cy="376.0" r="3.5" fill="#fff" stroke="#000" stroke-width="1.3"/>
<rect x="38.8" y="379.2" width="6.5" height="6.5" fill="#000"/>
<rect x="59.6" y="379.2" width="6.5" height="6.5" fill="#000"/>
<line x1="207.9" y1="380.8" x2="217.9" y2="380.8" stroke="#000" stroke-width="1.6" />
<line x1="212.9" y1="375.8" x2="212.9" y2="385.8" stroke="#000" stroke-width="1.6" />
<line x1="209.15" y1="377.05" x2="216.65" y2="384.55" stroke="#000" stroke-width="1.6" />
<line x1="209.15" y1="384.55" x2="216.65" y2="377.05" stroke="#000" stroke-width="1.6" />
<circle cx="212.9" cy="381.1" r="3.1" fill="#fff" stroke="#000" stroke-width="1.3"/>
<circle cx="212.9" cy="346.7" r="3.4" fill="#000" stroke="#000" stroke-width="1"/>
<polygon points="209.7,349.6 216.2,349.6 212.9,343.8" fill="#000"/>
<rect x="50.2" y="442.4" width="157.1" height="74.1" fill="none" stroke="#444" stroke-width="1"/>
<line x1="57" y1="453" x2="73.5" y2="453" stroke="#555" stroke-width="0.8" stroke-dasharray="1.6,1.6"/>
<line x1="63.2" y1="451" x2="67.2" y2="455" stroke="#000" stroke-width="1.4" />
<line x1="63.2" y1="455" x2="67.2" y2="451" stroke="#000" stroke-width="1.4" />
<text x="77" y="456.2" font-size="9.5" font-weight="bold" font-family='"Liberation Sans", sans-serif' text-anchor="start" fill="#000" >naïve</text>
<line x1="57" y1="466.6" x2="73.5" y2="466.6" stroke="#000" stroke-width="1.4" />
<line x1="61.0" y1="466.6" x2="69.4" y2="466.6" stroke="#000" stroke-width="1.4" />
<line x1="65.2" y1="462.40000000000003" x2="65.2" y2="470.8" stroke="#000" stroke-width="1.4" />
<line x1="62.050000000000004" y1="463.45000000000005" x2="68.35000000000001" y2="469.75" stroke="#000" stroke-width="1.4" />
<line x1="62.050000000000004" y1="469.75" x2="68.35000000000001" y2="463.45000000000005" stroke="#000" stroke-width="1.4" />
<line x1="82" y1="466.6" x2="93" y2="466.6" stroke="#000" stroke-width="1" />
<text x="97" y="469.8" font-size="9.5" font-weight="bold" font-family='"Liberation Sans", sans-serif' text-anchor="start" fill="#000" >/ CyaAOVA</text>
<line x1="57" y1="479.5" x2="73.5" y2="479.5" stroke="#000" stroke-width="1.3" />
<circle cx="65.2" cy="479.5" r="3.3" fill="#fff" stroke="#000" stroke-width="1.2"/>
<text x="77" y="482.7" font-size="9.5" font-weight="bold" font-family='"Liberation Sans", sans-serif' text-anchor="start" fill="#000" >BOVAp / CyaAOVA</text>
<line x1="57" y1="493" x2="73.5" y2="493" stroke="#000" stroke-width="1.3" />
<circle cx="65.2" cy="493.0" r="3.7" fill="#000" stroke="#000" stroke-width="1"/>
<text x="77" y="496.2" font-size="9.5" font-weight="bold" font-family='"Liberation Sans", sans-serif' text-anchor="start" fill="#000" >BOVAp+PolyI:C / CyaAOVA</text>
<line x1="57" y1="506.4" x2="73.5" y2="506.4" stroke="#000" stroke-width="1.3" />
<polygon points="61.5,509.8 69.0,509.8 65.2,503.0" fill="#000"/>
<text x="77" y="509.6" font-size="9.5" font-weight="bold" font-family='"Liberation Sans", sans-serif' text-anchor="start" fill="#000" >BOVAp+αCD40 / CyaAOVA</text>
<rect x="335.4" y="260.4" width="63.4" height="32.6" fill="none" stroke="#222" stroke-width="1.2"/>
<text x="387.5" y="275" font-size="8.5" font-weight="normal" font-family='"Liberation Sans", sans-serif' text-anchor="end" fill="#000" >** p &lt; 0.01</text>
<text x="387.5" y="285.5" font-size="8.5" font-weight="normal" font-family='"Liberation Sans", sans-serif' text-anchor="end" fill="#000" >* p &lt; 0.05</text>
<line x1="360.0" y1="305.6" x2="360.0" y2="498.4" stroke="#d2d2d2" stroke-width="0.9" />
<line x1="391.5" y1="305.6" x2="391.5" y2="498.4" stroke="#d2d2d2" stroke-width="0.9" />
<line x1="423.3" y1="305.6" x2="423.3" y2="498.4" stroke="#d2d2d2" stroke-width="0.9" />
<line x1="454.0" y1="305.6" x2="454.0" y2="498.4" stroke="#d2d2d2" stroke-width="0.9" />
<line x1="487.1" y1="305.6" x2="487.1" y2="498.4" stroke="#d2d2d2" stroke-width="0.9" />
<line x1="515.6" y1="305.6" x2="515.6" y2="498.4" stroke="#bbb" stroke-width="0.8" />
<line x1="328.0" y1="305.6" x2="515.6" y2="305.6" stroke="#888" stroke-width="1" />
<line x1="328.0" y1="305.6" x2="328.0" y2="392.9" stroke="#555" stroke-width="1.1" />
<line x1="328.0" y1="392.9" x2="515.6" y2="392.9" stroke="#777" stroke-width="1.1" />
<line x1="325.8" y1="390.2" x2="328.0" y2="390.2" stroke="#555" stroke-width="0.9" />
<text x="324.5" y="392.5" font-size="6.5" font-weight="bold" font-family='"Liberation Sans", sans-serif' text-anchor="end" fill="#000" >0</text>
<line x1="325.8" y1="373.28" x2="328.0" y2="373.28" stroke="#555" stroke-width="0.9" />
<text x="324.5" y="375.58" font-size="6.5" font-weight="bold" font-family='"Liberation Sans", sans-serif' text-anchor="end" fill="#000" >3</text>
<line x1="325.8" y1="356.36" x2="328.0" y2="356.36" stroke="#555" stroke-width="0.9" />
<text x="324.5" y="358.66" font-size="6.5" font-weight="bold" font-family='"Liberation Sans", sans-serif' text-anchor="end" fill="#000" >6</text>
<line x1="325.8" y1="339.44" x2="328.0" y2="339.44" stroke="#555" stroke-width="0.9" />
<text x="324.5" y="341.74" font-size="6.5" font-weight="bold" font-family='"Liberation Sans", sans-serif' text-anchor="end" fill="#000" >9</text>
<line x1="325.8" y1="322.52" x2="328.0" y2="322.52" stroke="#555" stroke-width="0.9" />
<text x="324.5" y="324.82" font-size="6.5" font-weight="bold" font-family='"Liberation Sans", sans-serif' text-anchor="end" fill="#000" >12</text>
<line x1="325.8" y1="305.6" x2="328.0" y2="305.6" stroke="#555" stroke-width="0.9" />
<text x="324.5" y="307.90000000000003" font-size="6.5" font-weight="bold" font-family='"Liberation Sans", sans-serif' text-anchor="end" fill="#000" >15</text>
<text transform="translate(313.6,349.6) rotate(-90)" font-size="9" font-weight="bold" font-family='"Liberation Sans", sans-serif' text-anchor="middle">% OVATetr <tspan font-size="5.5" dy="-3.2">+</tspan><tspan dy="3.2"> / CD8</tspan><tspan font-size="5.5" dy="-3.2">+</tspan></text>
<rect x="328.0" y="305.6" width="59.7" height="24.4" fill="#fff" stroke="#555" stroke-width="1"/>
<circle cx="338.2" cy="311.5" r="2.6" fill="#000" stroke="#000" stroke-width="1"/>
<circle cx="338.2" cy="322.5" r="2.4" fill="#fff" stroke="#000" stroke-width="1"/>
<text x="345.4" y="314.6" font-size="8.6" font-weight="bold" font-family='"Liberation Sans", sans-serif' text-anchor="start" fill="#000" >WT</text>
<text x="345.4" y="325.6" font-size="8.6" font-weight="bold" font-family='"Liberation Sans", sans-serif' text-anchor="start" fill="#000" >MHC-IIko</text>
<line x1="476" y1="273.4" x2="510.3" y2="273.4" stroke="#777" stroke-width="1" />
<text x="481.9" y="274.6" font-size="8.6" font-weight="bold" font-family='"Liberation Sans", sans-serif' text-anchor="middle" fill="#000" >*</text>
<line x1="447.3" y1="281.2" x2="510.3" y2="281.2" stroke="#777" stroke-width="1" />
<text x="456.1" y="282.7" font-size="8.6" font-weight="bold" font-family='"Liberation Sans", sans-serif' text-anchor="middle" fill="#000" letter-spacing="1.8">**</text>
<line x1="459.7" y1="293.4" x2="493.5" y2="293.4" stroke="#777" stroke-width="1" />
<text x="468.4" y="294.3" font-size="8.6" font-weight="bold" font-family='"Liberation Sans", sans-serif' text-anchor="middle" fill="#000" letter-spacing="1.8">**</text>
<line x1="431" y1="301" x2="493.5" y2="301" stroke="#777" stroke-width="1" />
<text x="441.3" y="302.6" font-size="8.6" font-weight="bold" font-family='"Liberation Sans", sans-serif' text-anchor="middle" fill="#000" letter-spacing="1.8">**</text>
<line x1="330.8" y1="388.7" x2="340.8" y2="388.7" stroke="#222" stroke-width="1" />
<line x1="346.3" y1="389" x2="356.4" y2="389" stroke="#222" stroke-width="1" />
<line x1="362" y1="383.8" x2="373" y2="383.8" stroke="#222" stroke-width="1" />
<line x1="376.6" y1="383.6" x2="386.7" y2="383.6" stroke="#222" stroke-width="1" />
<line x1="393" y1="384" x2="404" y2="384" stroke="#222" stroke-width="1" />
<line x1="408.9" y1="383.6" x2="420" y2="383.6" stroke="#222" stroke-width="1" />
<line x1="424.5" y1="385.5" x2="435.5" y2="385.5" stroke="#222" stroke-width="1" />
<line x1="438" y1="386" x2="451" y2="386" stroke="#222" stroke-width="1" />
<line x1="456" y1="373.2" x2="467" y2="373.2" stroke="#222" stroke-width="1" />
<line x1="471.4" y1="376" x2="479.8" y2="376" stroke="#222" stroke-width="1" />
<line x1="486.2" y1="341" x2="497.1" y2="341" stroke="#222" stroke-width="1" />
<line x1="502.3" y1="344.1" x2="513" y2="344.1" stroke="#222" stroke-width="1" />
<circle cx="335.8" cy="388.7" r="2.6" fill="#000" stroke="#000" stroke-width="1"/>
<circle cx="363.5" cy="381.8" r="2.6" fill="#000" stroke="#000" stroke-width="1"/>
<circle cx="367.9" cy="386.3" r="2.6" fill="#000" stroke="#000" stroke-width="1"/>
<circle cx="371.5" cy="383.2" r="2.6" fill="#000" stroke="#000" stroke-width="1"/>
<circle cx="394.1" cy="381.3" r="2.6" fill="#000" stroke="#000" stroke-width="1"/>
<circle cx="398.0" cy="385.7" r="2.6" fill="#000" stroke="#000" stroke-width="1"/>
<circle cx="402.4" cy="383.9" r="2.6" fill="#000" stroke="#000" stroke-width="1"/>
<circle cx="426.0" cy="385.2" r="2.6" fill="#000" stroke="#000" stroke-width="1"/>
<circle cx="429.7" cy="387.0" r="2.6" fill="#000" stroke="#000" stroke-width="1"/>
<circle cx="433.0" cy="384.4" r="2.6" fill="#000" stroke="#000" stroke-width="1"/>
<circle cx="457.2" cy="372.7" r="2.6" fill="#000" stroke="#000" stroke-width="1"/>
<circle cx="460.8" cy="370.1" r="2.6" fill="#000" stroke="#000" stroke-width="1"/>
<circle cx="465.0" cy="374.0" r="2.6" fill="#000" stroke="#000" stroke-width="1"/>
<circle cx="460.8" cy="381.0" r="2.6" fill="#000" stroke="#000" stroke-width="1"/>
<circle cx="496.1" cy="322.8" r="2.6" fill="#000" stroke="#000" stroke-width="1"/>
<circle cx="492.0" cy="326.7" r="2.6" fill="#000" stroke="#000" stroke-width="1"/>
<circle cx="492.0" cy="339.0" r="2.6" fill="#000" stroke="#000" stroke-width="1"/>
<circle cx="496.1" cy="355.8" r="2.6" fill="#000" stroke="#000" stroke-width="1"/>
<circle cx="492.0" cy="361.5" r="2.6" fill="#000" stroke="#000" stroke-width="1"/>
<circle cx="351.0" cy="389.0" r="2.35" fill="#fff" stroke="#000" stroke-width="0.95"/>
<circle cx="382.6" cy="378.2" r="2.35" fill="#fff" stroke="#000" stroke-width="0.95"/>
<circle cx="386.1" cy="383.8" r="2.35" fill="#fff" stroke="#000" stroke-width="0.95"/>
<circle cx="382.6" cy="387.9" r="2.35" fill="#fff" stroke="#000" stroke-width="0.95"/>
<circle cx="413.6" cy="383.9" r="2.35" fill="#fff" stroke="#000" stroke-width="0.95"/>
<circle cx="418.0" cy="383.1" r="2.35" fill="#fff" stroke="#000" stroke-width="0.95"/>
<circle cx="441.6" cy="385.2" r="2.35" fill="#fff" stroke="#000" stroke-width="0.95"/>
<circle cx="445.5" cy="389.0" r="2.35" fill="#fff" stroke="#000" stroke-width="0.95"/>
<circle cx="449.1" cy="385.2" r="2.35" fill="#fff" stroke="#000" stroke-width="0.95"/>
<circle cx="468.9" cy="372.2" r="2.35" fill="#fff" stroke="#000" stroke-width="0.95"/>
<circle cx="476.4" cy="373.2" r="2.35" fill="#fff" stroke="#000" stroke-width="0.95"/>
<circle cx="480.5" cy="378.7" r="2.35" fill="#fff" stroke="#000" stroke-width="0.95"/>
<circle cx="476.4" cy="381.3" r="2.35" fill="#fff" stroke="#000" stroke-width="0.95"/>
<circle cx="507.8" cy="311.2" r="2.35" fill="#fff" stroke="#000" stroke-width="0.95"/>
<circle cx="507.8" cy="340.8" r="2.35" fill="#fff" stroke="#000" stroke-width="0.95"/>
<circle cx="503.9" cy="356.3" r="2.35" fill="#fff" stroke="#000" stroke-width="0.95"/>
<circle cx="507.8" cy="357.6" r="2.35" fill="#fff" stroke="#000" stroke-width="0.95"/>
<circle cx="511.7" cy="356.3" r="2.35" fill="#fff" stroke="#000" stroke-width="0.95"/>
<text x="238.5" y="406.6" font-size="10.2" font-weight="bold" font-family='"Liberation Sans", sans-serif' text-anchor="start" fill="#000" text-decoration="underline">First Injection:</text>
<text x="250" y="420.2" font-size="10.2" font-weight="bold" font-family='"Liberation Sans", sans-serif' text-anchor="start" fill="#000" >BOVAp</text>
<text x="250" y="434.8" font-size="10.2" font-weight="bold" font-family='"Liberation Sans", sans-serif' text-anchor="start" fill="#000" >BOVAp+Poly(I:C)</text>
<line x1="238" y1="444.4" x2="515.6" y2="444.4" stroke="#ccc" stroke-width="0.8" />
<text x="238.5" y="462.6" font-size="10.2" font-weight="bold" font-family='"Liberation Sans", sans-serif' text-anchor="start" fill="#000" text-decoration="underline">Second Injection:</text>
<text x="250" y="476.7" font-size="10.2" font-weight="bold" font-family='"Liberation Sans", sans-serif' text-anchor="start" fill="#000" >BOVAp+Poly(I:C)</text>
<text x="250" y="490.9" font-size="10.2" font-weight="bold" font-family='"Liberation Sans", sans-serif' text-anchor="start" fill="#000" >CyaOVA</text>
<line x1="238" y1="498.4" x2="515.6" y2="498.4" stroke="#ccc" stroke-width="0.8" />
<line x1="343.79999999999995" y1="416.9" x2="347.0" y2="416.9" stroke="#000" stroke-width="1.3" />
<line x1="374.09999999999997" y1="416.9" x2="377.3" y2="416.9" stroke="#000" stroke-width="1.3" />
<line x1="404.7" y1="416.9" x2="410.3" y2="416.9" stroke="#000" stroke-width="1.3" />
<line x1="407.5" y1="414.09999999999997" x2="407.5" y2="419.7" stroke="#000" stroke-width="1.3" />
<line x1="436.2" y1="416.9" x2="439.40000000000003" y2="416.9" stroke="#000" stroke-width="1.3" />
<line x1="467.2" y1="416.9" x2="470.40000000000003" y2="416.9" stroke="#000" stroke-width="1.3" />
<line x1="499.0" y1="416.9" x2="502.20000000000005" y2="416.9" stroke="#000" stroke-width="1.3" />
<line x1="343.79999999999995" y1="430.8" x2="347.0" y2="430.8" stroke="#000" stroke-width="1.3" />
<line x1="374.09999999999997" y1="430.8" x2="377.3" y2="430.8" stroke="#000" stroke-width="1.3" />
<line x1="405.9" y1="430.8" x2="409.1" y2="430.8" stroke="#000" stroke-width="1.3" />
<line x1="435.0" y1="430.8" x2="440.6" y2="430.8" stroke="#000" stroke-width="1.3" />
<line x1="437.8" y1="428.0" x2="437.8" y2="433.6" stroke="#000" stroke-width="1.3" />
<line x1="467.2" y1="430.8" x2="470.40000000000003" y2="430.8" stroke="#000" stroke-width="1.3" />
<line x1="497.8" y1="430.8" x2="503.40000000000003" y2="430.8" stroke="#000" stroke-width="1.3" />
<line x1="500.6" y1="428.0" x2="500.6" y2="433.6" stroke="#000" stroke-width="1.3" />
<line x1="343.79999999999995" y1="472.8" x2="347.0" y2="472.8" stroke="#000" stroke-width="1.3" />
<line x1="374.09999999999997" y1="472.8" x2="377.3" y2="472.8" stroke="#000" stroke-width="1.3" />
<line x1="405.9" y1="472.8" x2="409.1" y2="472.8" stroke="#000" stroke-width="1.3" />
<line x1="436.2" y1="472.8" x2="439.40000000000003" y2="472.8" stroke="#000" stroke-width="1.3" />
<line x1="466.0" y1="472.8" x2="471.6" y2="472.8" stroke="#000" stroke-width="1.3" />
<line x1="468.8" y1="470.0" x2="468.8" y2="475.6" stroke="#000" stroke-width="1.3" />
<line x1="499.0" y1="472.8" x2="502.20000000000005" y2="472.8" stroke="#000" stroke-width="1.3" />
<line x1="343.79999999999995" y1="486.3" x2="347.0" y2="486.3" stroke="#000" stroke-width="1.3" />
<line x1="372.9" y1="486.3" x2="378.5" y2="486.3" stroke="#000" stroke-width="1.3" />
<line x1="375.7" y1="483.5" x2="375.7" y2="489.1" stroke="#000" stroke-width="1.3" />
<line x1="404.7" y1="486.3" x2="410.3" y2="486.3" stroke="#000" stroke-width="1.3" />
<line x1="407.5" y1="483.5" x2="407.5" y2="489.1" stroke="#000" stroke-width="1.3" />
<line x1="436.2" y1="486.3" x2="439.40000000000003" y2="486.3" stroke="#000" stroke-width="1.3" />
<line x1="467.2" y1="486.3" x2="470.40000000000003" y2="486.3" stroke="#000" stroke-width="1.3" />
<line x1="497.8" y1="486.3" x2="503.40000000000003" y2="486.3" stroke="#000" stroke-width="1.3" />
<line x1="500.6" y1="483.5" x2="500.6" y2="489.1" stroke="#000" stroke-width="1.3" />
</svg>
</body></html>
